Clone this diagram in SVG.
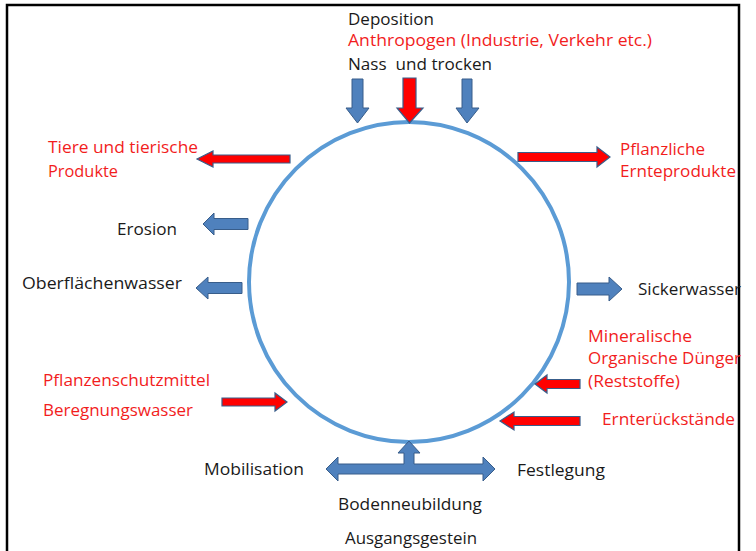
<svg xmlns="http://www.w3.org/2000/svg" width="756" height="551" viewBox="0 0 756 551">
<style>
text{font-family:"Open Sans","Liberation Sans",sans-serif;font-size:15.5px}
.k{fill:#1a1a1a}
.r{fill:#f21d1d}
.ba{fill:#4f81bd;stroke:#385d8a;stroke-width:1}
.ra{fill:#ff0000;stroke:#385d8a;stroke-width:1.2}
</style>
<rect width="756" height="551" fill="#fff"/>
<path d="M7,551 V5 H739 V551" fill="none" stroke="#000" stroke-width="2.5"/>
<g id="cycle"><circle cx="409" cy="282" r="160" fill="none" stroke="#5b9bd5" stroke-width="4"/></g>
<g id="connectors">
<polygon class="ba" points="352,79 363,79 363,108 369,108 357.5,123 346,108 352,108"/>
<polygon class="ra" points="403,78 416,78 416,108 423,108 409.5,123 397,108 403,108"/>
<polygon class="ba" points="462,79 472,79 472,108 479,108 467,123 456,108 462,108"/>
<polygon class="ra" points="197,159 213,151 213,155 290,155 290,163 213,163 213,167"/>
<polygon class="ra" points="518,152.5 597,152.5 597,147 610,157 597,167 597,161.5 518,161.5"/>
<polygon class="ba" points="203,224 214,213 214,218.5 248,218.5 248,229.5 214,229.5 214,235"/>
<polygon class="ba" points="196,288 208,277 208,282.5 242,282.5 242,293.5 208,293.5 208,299"/>
<polygon class="ba" points="577,283 609,283 609,277 622,289 609,301 609,295 577,295"/>
<polygon class="ra" points="535,384 547,375 547,379.5 580,379.5 580,388.5 547,388.5 547,393"/>
<polygon class="ra" points="500,421 514,412 514,416.5 580,416.5 580,425.5 514,425.5 514,430"/>
<polygon class="ra" points="222,398 275,398 275,393 287,402 275,411 275,406 222,406"/>
<polygon class="ba" points="326,469 338,457 338,464 404,464 404,453 398,453 409,441 420,453 414,453 414,464 483,464 483,457 495,469 483,481 483,474 338,474 338,481"/>
</g>
<g id="deposition">
<text class="k" x="348" y="25" textLength="86" lengthAdjust="spacingAndGlyphs">Deposition</text>
<text class="r" x="348" y="46" textLength="304" lengthAdjust="spacingAndGlyphs">Anthropogen (Industrie, Verkehr etc.)</text>
<text class="k" x="348" y="70" textLength="144" lengthAdjust="spacingAndGlyphs" xml:space="preserve">Nass  und trocken</text>
</g>
<g id="tiere">
<text class="r" x="48" y="153" textLength="150" lengthAdjust="spacingAndGlyphs">Tiere und tierische</text>
<text class="r" x="48" y="177" textLength="70" lengthAdjust="spacingAndGlyphs">Produkte</text>
</g>
<g id="pflanzliche">
<text class="r" x="620" y="155" textLength="85" lengthAdjust="spacingAndGlyphs">Pflanzliche</text>
<text class="r" x="620" y="177" textLength="116" lengthAdjust="spacingAndGlyphs">Ernteprodukte</text>
</g>
<g id="erosion"><text class="k" x="117" y="235" textLength="60" lengthAdjust="spacingAndGlyphs">Erosion</text></g>
<g id="oberflaechenwasser"><text class="k" x="22" y="289" textLength="160" lengthAdjust="spacingAndGlyphs">Oberflächenwasser</text></g>
<g id="sickerwasser"><text class="k" x="638" y="295" textLength="103" lengthAdjust="spacingAndGlyphs">Sickerwasser</text></g>
<g id="duenger">
<text class="r" x="588" y="342" textLength="104" lengthAdjust="spacingAndGlyphs">Mineralische</text>
<text class="r" x="588" y="364" textLength="153" lengthAdjust="spacingAndGlyphs">Organische Dünger</text>
<text class="r" x="588" y="387" textLength="92" lengthAdjust="spacingAndGlyphs">(Reststoffe)</text>
</g>
<g id="ernterueckstaende"><text class="r" x="602" y="425" textLength="133" lengthAdjust="spacingAndGlyphs">Ernterückstände</text></g>
<g id="pflanzenschutz">
<text class="r" x="43" y="386" textLength="167" lengthAdjust="spacingAndGlyphs">Pflanzenschutzmittel</text>
<text class="r" x="43" y="416" textLength="150" lengthAdjust="spacingAndGlyphs">Beregnungswasser</text>
</g>
<g id="mobilisation"><text class="k" x="204" y="475" textLength="100" lengthAdjust="spacingAndGlyphs">Mobilisation</text></g>
<g id="festlegung"><text class="k" x="517" y="476" textLength="88" lengthAdjust="spacingAndGlyphs">Festlegung</text></g>
<g id="bodenneubildung"><text class="k" x="338" y="510" textLength="144" lengthAdjust="spacingAndGlyphs">Bodenneubildung</text></g>
<g id="ausgangsgestein"><text class="k" x="345" y="544" textLength="132" lengthAdjust="spacingAndGlyphs">Ausgangsgestein</text></g>
</svg>
